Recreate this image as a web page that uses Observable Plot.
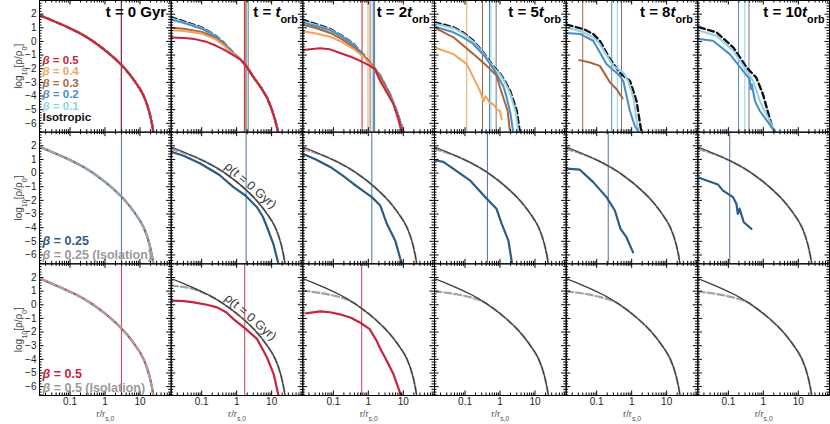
<!DOCTYPE html>
<html><head><meta charset="utf-8">
<script src="https://cdn.jsdelivr.net/npm/d3@7"></script>
<script src="https://cdn.jsdelivr.net/npm/@observablehq/plot@0.6"></script>
<style>body{margin:0;background:#fff}</style>
</head><body><div id="chart"></div>
<script>
// ---------- categories & labels ----------
const columns = ["t0","t1","t2","t5","t8","t10"];
const rowKeys = ["aniso","b025","b05"];
const titles = ["t = 0 Gyr","t = *t*_{orb}","t = 2*t*_{orb}","t = 5*t*_{orb}","t = 8*t*_{orb}","t = 10*t*_{orb}"];
const yTickValues = [2,1,0,-1,-2,-3,-4,-5,-6];
const xTickValues = [0.1,1,10];
const xTickLabels = ["0.1","1","10"];
const xMinorTicks = [0.02,0.03,0.04,0.05,0.06,0.07,0.08,0.09,0.2,0.3,0.4,0.5,0.6,0.7,0.8,0.9,2,3,4,5,6,7,8,9,20,30,40,50,60,70];
const betaKeys = ["b5","b4","b3","b2","b1","iso"];
const betaLabels = ["*β* = 0.5","*β* = 0.4","*β* = 0.3","*β* = 0.2","*β* = 0.1","Isotropic"];
const betaColors = ["#c8233f","#f2a45c","#a8663e","#4b8cc8","#8ed2e9","#111111"];
const midLegend = ["*β* = 0.25","*β* = 0.25 (Isolation)"];
const botLegend = ["*β* = 0.5","*β* = 0.5 (Isolation)"];
const vlineColors = {b5:"#c8233f",b4:"#f2a45c",b3:"#a8663e",b2:"#4b8cc8",b1:"#8ed2e9",iso:"#777777"};
const blue025 = "#2d5b86";
const red05 = "#c8233f";
const isoGrey = "#a3a3a3";

// ---------- curves: [log10(r/r_s,0), log10(rho/rho0)] ----------
const rho_t0 = [[-1.88,1.93],[-1.6,1.64],[-1.4,1.42],[-1.2,1.2],[-1.0,0.96],[-0.8,0.71],[-0.6,0.43],[-0.4,0.11],[-0.2,-0.25],[0,-0.64],[0.2,-1.07],[0.4,-1.55],[0.5,-1.81],[0.6,-2.09],[0.7,-2.4],[0.8,-2.74],[0.9,-3.1],[1.0,-3.48],[1.1,-3.95],[1.2,-4.6],[1.28,-5.3],[1.34,-6.0],[1.4,-6.9]];
const tailFrom = lr => rho_t0.filter(p => p[0] >= lr);

// top row (anisotropy comparison)
const t1_tail = [[0.1,-1.3],[0.25,-1.72],[0.49,-2.65],[0.7,-3.4],[0.87,-4.12],[1.0,-4.95],[1.1,-5.75],[1.2,-6.8]];
const t1_iso = [[-1.88,1.78],[-1.5,1.45],[-1.0,1.02],[-0.6,0.42],[-0.35,-0.15],[-0.1,-0.85]];
const t1_b1 = [[-1.88,1.7],[-1.5,1.4],[-1.0,0.98],[-0.6,0.4],[-0.35,-0.17],[-0.1,-0.86]];
const t1_b2 = [[-1.88,1.6],[-1.5,1.34],[-1.0,0.93],[-0.6,0.36],[-0.35,-0.2],[-0.1,-0.87]];
const t1_b3 = [[-1.88,1.0],[-1.5,0.93],[-1.0,0.7],[-0.6,0.25],[-0.35,-0.28],[-0.1,-0.9]];
const t1_b4 = [[-1.88,0.82],[-1.5,0.77],[-1.0,0.57],[-0.6,0.15],[-0.35,-0.34],[-0.1,-0.93]];
const t1_b5 = [[-1.88,0.28],[-1.5,0.25],[-1.2,0.17],[-0.9,0.0],[-0.6,-0.3],[-0.35,-0.62],[-0.1,-1.0]];

const t2_iso = [[-1.88,1.6],[-1.5,1.27],[-1.09,0.91],[-0.75,0.4],[-0.42,-0.19],[-0.15,-0.95],[0.05,-1.6],[0.19,-2.0],[0.34,-2.52],[0.62,-3.87],[0.81,-5.1],[1.02,-6.7]];
const t2_b1 = [[-1.88,1.48],[-1.5,1.2],[-1.09,0.86],[-0.75,0.37],[-0.42,-0.22],[-0.15,-0.96],[0.05,-1.6],[0.19,-2.0],[0.34,-2.5],[0.62,-3.85],[0.81,-5.05],[1.02,-6.7]];
const t2_b2 = [[-1.88,1.38],[-1.5,1.13],[-1.09,0.81],[-0.75,0.33],[-0.42,-0.25],[-0.15,-0.98],[0.05,-1.6],[0.19,-2.02],[0.34,-2.55],[0.62,-3.9],[0.81,-5.15],[1.0,-6.7]];
const t2_b3 = [[-1.88,1.23],[-1.5,0.98],[-1.09,0.62],[-0.75,0.15],[-0.42,-0.44],[-0.15,-1.05],[0.05,-1.55],[0.19,-2.0],[0.34,-2.6],[0.62,-3.95],[0.81,-5.2],[1.0,-6.7]];
const t2_b4 = [[-1.88,0.74],[-1.5,0.58],[-1.09,0.35],[-0.75,-0.05],[-0.42,-0.56],[-0.15,-1.1],[0.05,-1.66],[0.19,-2.1],[0.34,-2.85],[0.53,-3.7],[0.72,-4.55],[0.96,-6.7]];
const t2_b5 = [[-1.85,-0.63],[-1.6,-0.55],[-1.38,-0.5],[-1.1,-0.58],[-0.81,-0.85],[-0.5,-1.12],[-0.23,-1.42],[0.05,-1.79],[0.19,-2.05],[0.34,-2.9],[0.53,-3.75],[0.72,-4.6],[0.85,-5.6],[0.96,-6.7]];

const t5_iso = [[-1.86,1.4],[-1.33,1.04],[-1.05,0.65],[-0.76,0.05],[-0.45,-0.9],[-0.19,-1.85],[0.0,-2.35],[0.15,-2.95],[0.29,-3.63],[0.48,-5.1],[0.57,-6.7]];
const t5_b1 = [[-1.86,1.3],[-1.33,0.97],[-1.05,0.58],[-0.76,-0.02],[-0.45,-0.95],[-0.19,-1.9],[0.0,-2.4],[0.15,-3.05],[0.29,-3.8],[0.45,-5.2],[0.53,-6.7]];
const t5_b2 = [[-1.86,1.08],[-1.33,0.67],[-1.05,0.3],[-0.76,-0.19],[-0.45,-1.05],[-0.19,-2.0],[-0.05,-2.6],[0.1,-3.3],[0.19,-4.1],[0.3,-5.3],[0.38,-6.7]];
const t5_b3 = [[-1.86,0.99],[-1.33,0.3],[-0.76,-0.93],[-0.38,-1.79],[-0.1,-2.5],[0.0,-3.38],[0.22,-5.1],[0.28,-6.5]];
const t5_b4 = [[-1.86,-0.44],[-1.33,-0.93],[-0.95,-1.66],[-0.76,-2.65],[-0.57,-3.63],[-0.47,-4.37],[-0.42,-4.0],[-0.36,-4.2],[-0.3,-4.5],[-0.19,-4.6],[-0.09,-4.98],[0.0,-5.1],[0.05,-5.72]];

const t8_iso = [[-1.86,1.23],[-1.38,0.91],[-1.1,0.55],[-0.91,0.05],[-0.62,-1.3],[-0.34,-2.28],[-0.2,-2.6],[-0.05,-2.89],[0.14,-4.37],[0.28,-6.7]];
const t8_b1 = [[-1.86,1.04],[-1.38,0.67],[-1.1,0.3],[-0.91,-0.19],[-0.53,-1.79],[-0.24,-2.28],[-0.1,-2.9],[0.05,-4.12],[0.19,-6.7]];
const t8_b2 = [[-1.86,0.62],[-1.48,0.55],[-1.1,0.05],[-0.72,-1.66],[-0.34,-2.52],[-0.24,-2.9],[-0.05,-5.1],[0.09,-6.2],[0.22,-6.7]];
const t8_b3 = [[-1.5,-1.37],[-1.19,-1.54],[-0.91,-1.79],[-0.62,-3.0],[-0.43,-3.5],[-0.26,-4.17]];

const t10_iso = [[-1.84,1.04],[-1.34,0.67],[-0.86,-0.44],[-0.48,-1.91],[-0.2,-2.65],[-0.01,-3.88],[0.23,-6.08],[0.37,-6.8]];
const t10_b1 = [[-1.84,0.79],[-1.34,0.42],[-0.86,-0.68],[-0.48,-2.15],[-0.29,-2.9],[-0.1,-4.37],[0.09,-5.35],[0.37,-6.8]];
const t10_b2 = [[-1.84,0.18],[-1.44,0.05],[-0.96,-0.93],[-0.58,-2.15],[-0.39,-2.77],[-0.36,-3.5],[-0.33,-3.14],[-0.24,-4.37],[-0.1,-5.1],[0.18,-6.08],[0.37,-6.8]];

// middle row (beta = 0.25)
const b025_t1 = [[-1.85,1.55],[-1.5,1.25],[-1.04,0.7],[-0.5,-0.12],[-0.09,-1.03],[0.25,-1.64],[0.58,-2.5],[0.75,-3.2],[0.87,-3.97],[1.05,-5.2],[1.2,-6.7]];
const b025_t2 = [[-1.85,1.38],[-1.5,1.0],[-1.09,0.45],[-0.75,-0.15],[-0.43,-0.78],[-0.15,-1.3],[0.1,-1.76],[0.34,-2.37],[0.53,-3.72],[0.77,-4.95],[0.96,-6.7]];
const b025_t5 = [[-1.86,0.94],[-1.62,0.82],[-1.34,0.33],[-0.86,-0.53],[-0.38,-1.88],[-0.1,-2.62],[0.05,-3.72],[0.24,-4.95],[0.35,-6.7]];
const b025_t8 = [[-1.86,0.33],[-1.48,0.25],[-1.1,-0.66],[-0.72,-1.76],[-0.48,-2.74],[-0.32,-4.09],[-0.15,-4.7],[0.04,-5.81]];
const b025_t10 = [[-1.82,-0.36],[-1.3,-0.83],[-1.16,-1.27],[-0.87,-1.76],[-0.77,-2.25],[-0.73,-2.99],[-0.68,-2.6],[-0.62,-3.1],[-0.56,-3.6],[-0.34,-4.09]];
const iso025_core = [[-1.88,1.78],[-1.6,1.56],[-1.4,1.38]];

// bottom row (beta = 0.5)
const b05_t1 = [[-1.85,0.3],[-1.5,0.27],[-1.23,0.17],[-0.85,0.0],[-0.56,-0.19],[-0.3,-0.55],[-0.09,-1.05],[0.25,-1.75],[0.58,-2.5],[0.75,-3.3],[0.87,-3.88],[1.06,-5.1],[1.2,-6.7]];
const b05_t2 = [[-1.78,-0.63],[-1.38,-0.49],[-1.1,-0.55],[-0.81,-0.7],[-0.5,-0.95],[-0.24,-1.3],[0.04,-1.79],[0.24,-2.65],[0.34,-3.2],[0.53,-4.12],[0.72,-5.1],[0.89,-6.33],[0.96,-6.7]];
const iso05_t1 = [[-1.88,1.42],[-1.6,1.33],[-1.4,1.25],[-1.2,1.13],[-1.0,0.94]];
const iso05_t2 = [[-1.88,1.05],[-1.6,0.95],[-1.3,0.83],[-1.0,0.68],[-0.8,0.55],[-0.6,0.38]];
const iso05_t5 = [[-1.88,0.98],[-1.5,0.87],[-1.2,0.75],[-0.9,0.59],[-0.6,0.36]];
const iso05_t8 = [[-1.88,0.98],[-1.5,0.87],[-1.2,0.74],[-0.9,0.57],[-0.6,0.35]];
const iso05_t10 = [[-1.88,0.97],[-1.5,0.86],[-1.2,0.73],[-0.9,0.56],[-0.6,0.35]];

// vertical lines: log10(r/r_s,0)
const vTop = [["t0","iso",0.47],["t0","b1",0.47],["t0","b2",0.47],["t0","b3",0.47],["t0","b4",0.47],["t0","b5",0.47],
  ["t1","iso",0.33],["t1","b1",0.29],["t1","b2",0.27],["t1","b3",0.25],["t1","b4",0.24],["t1","b5",0.22],
  ["t2","iso",0.18],["t2","b2",0.15],["t2","b1",0.11],["t2","b3",0.05],["t2","b4",-0.01],["t2","b5",-0.18],
  ["t5","iso",-0.11],["t5","b1",-0.26],["t5","b2",-0.3],["t5","b3",-0.5],["t5","b4",-0.95],
  ["t8","iso",-0.29],["t8","b1",-0.41],["t8","b2",-0.57],["t8","b3",-1.4],
  ["t10","iso",-0.41],["t10","b1",-0.53],["t10","b2",-0.71]];
const vMid = [["t0",0.47],["t1",0.27],["t2",0.1],["t5",-0.36],["t8",-0.67],["t10",-0.96]];
const vBot = [["t0",0.47],["t1",0.23],["t2",-0.19]];
const rhoLabelPos = [0.4,-0.9];

// ---------- tables ----------
const topCurves = [
  ...["iso","b1","b2","b3","b4","b5"].map(k => ["t0",k,rho_t0]),
  ["t1","iso",t1_iso.concat(t1_tail)],["t1","b1",t1_b1.concat(t1_tail)],["t1","b2",t1_b2.concat(t1_tail)],
  ["t1","b3",t1_b3.concat(t1_tail)],["t1","b4",t1_b4.concat(t1_tail)],["t1","b5",t1_b5.concat(t1_tail)],
  ["t2","iso",t2_iso],["t2","b1",t2_b1],["t2","b2",t2_b2],["t2","b3",t2_b3],["t2","b4",t2_b4],["t2","b5",t2_b5],
  ["t5","iso",t5_iso],["t5","b1",t5_b1],["t5","b2",t5_b2],["t5","b3",t5_b3],["t5","b4",t5_b4],
  ["t8","iso",t8_iso],["t8","b1",t8_b1],["t8","b2",t8_b2],["t8","b3",t8_b3],
  ["t10","iso",t10_iso],["t10","b1",t10_b1],["t10","b2",t10_b2]
];
const colorOf = Object.fromEntries(betaKeys.map((k,i)=>[k,betaColors[i]]));
const drawOrder = ["b1","b2","b3","b4","b5"];
const pts = (col,row,key,arr,color) => arr.map(([lr,y]) => ({col,row,key:col+row+key,r:10**lr,y,color}));

const topIso = topCurves.filter(c=>c[1]==="iso").flatMap(([c,k,a]) => pts(c,"aniso",k,a,"#111"));
const topColored = drawOrder.flatMap(k => topCurves.filter(c=>c[1]===k).flatMap(([c,kk,a]) => pts(c,"aniso",kk,a,colorOf[kk])));

const baseRows = ["b025","b05"].flatMap(row => columns.filter(c=>c!=="t0").flatMap(c => pts(c,row,"base",rho_t0,"#333")));
const midCurves = [["t0",rho_t0],["t1",b025_t1],["t2",b025_t2],["t5",b025_t5],["t8",b025_t8],["t10",b025_t10]];
const botCurves = [["t0",rho_t0],["t1",b05_t1],["t2",b05_t2]];
const coloredRows = [
  ...midCurves.flatMap(([c,a]) => pts(c,"b025","beta",a,blue025)),
  ...botCurves.flatMap(([c,a]) => pts(c,"b05","beta",a,red05))
];
const isoMid = columns.flatMap(c => pts(c,"b025","iso", c==="t0" ? rho_t0 : iso025_core.concat(tailFrom(-1.2)), isoGrey));
const isoBotSrc = {t0: rho_t0, t1: iso05_t1.concat(tailFrom(-0.8)), t2: iso05_t2.concat(tailFrom(-0.4)),
  t5: iso05_t5.concat(tailFrom(-0.4)), t8: iso05_t8.concat(tailFrom(-0.4)), t10: iso05_t10.concat(tailFrom(-0.4))};
const isoBot = columns.flatMap(c => pts(c,"b05","iso",isoBotSrc[c],isoGrey));

const vlineData = [
  ...vTop.map(([col,k,lr]) => ({col,row:"aniso",r:10**lr,color: k==="b5"&&col==="t0" ? "#a11e34" : vlineColors[k]})),
  ...vMid.map(([col,lr]) => ({col,row:"b025",r:10**lr,color:"#4f7399"})),
  ...vBot.map(([col,lr]) => ({col,row:"b05",r:10**lr,color:"#cf3a52"}))
];

// ---------- layout ----------
const W = 830, H = 424, ML = 39, MR = 1, MT = 0, MB = 29;
const PW = (W-ML-MR)/6, PH = (H-MT-MB)/3;
const yMinor = d3.range(-33,15).map(i=>+(i*0.2).toFixed(1)).filter(v=>Math.abs(v-Math.round(v))>1e-6);
const fmt = v => v < 0 ? "\u2212" + (-v) : String(v);

const yTickData = rowKeys.flatMap(row => yTickValues.map(v => ({row,v})));
const xTickData = columns.flatMap(col => xTickValues.map((v,i) => ({col,v,label:xTickLabels[i]})));
const legendText = (txt, fx, fy, opts) => Plot.text([txt], {fx:()=>fx, fy:()=>fy, text:d=>d,
  frameAnchor:"bottom-left", textAnchor:"start", lineAnchor:"bottom", dx:3, fontWeight:"bold", ...opts});

const svg = Plot.plot({
  width: W, height: H, marginLeft: ML, marginRight: MR, marginTop: MT, marginBottom: MB,
  style: {fontFamily: "'Liberation Sans', Arial, sans-serif", background: "#fff"},
  fx: {domain: columns, padding: 0, round: false, axis: null},
  fy: {domain: rowKeys, padding: 0, round: false, axis: null},
  x: {type: "log", domain: [0.0134, 78], axis: null},
  y: {domain: [-6.65, 3.0], axis: null},
  marks: [
    Plot.ruleX(vlineData, {x:"r", fx:"col", fy:"row", stroke:"color", strokeWidth:1}),
    // rows 2-3: satellite, isolation, initial profile
    Plot.line(coloredRows, {x:"r", y:"y", fx:"col", fy:"row", z:"key", stroke:"color", strokeWidth:2.2, strokeLinejoin:"round", clip:true}),
    Plot.line(isoMid.concat(isoBot), {x:"r", y:"y", fx:"col", fy:"row", z:"key", stroke:isoGrey, strokeWidth:2.2, strokeDasharray:"7,3", clip:true}),
    Plot.line(baseRows, {x:"r", y:"y", fx:"col", fy:"row", z:"key", stroke:"#3a3a3a", strokeWidth:1.2, clip:true}),
    // top row
    Plot.line(topIso, {x:"r", y:"y", fx:"col", fy:"row", z:"key", stroke:"#111", strokeWidth:2.4, strokeDasharray:"6,3.5", clip:true}),
    Plot.line(topColored, {x:"r", y:"y", fx:"col", fy:"row", z:"key", stroke:"color", strokeWidth:2, strokeLinejoin:"round", clip:true}),
    // frame and ticks
    Plot.frame({stroke:"#000", strokeWidth:1}),
    Plot.tickY(yTickValues, {y:d=>d, insetRight: PW-4.5, stroke:"#000"}),
    Plot.tickY(yTickValues, {y:d=>d, insetLeft: PW-4.5, stroke:"#000"}),
    Plot.tickY(yMinor, {y:d=>d, insetRight: PW-2.5, stroke:"#000"}),
    Plot.tickY(yMinor, {y:d=>d, insetLeft: PW-2.5, stroke:"#000"}),
    Plot.tickX(xTickValues, {x:d=>d, insetTop: PH-4.5, stroke:"#000"}),
    Plot.tickX(xTickValues, {x:d=>d, insetBottom: PH-4.5, stroke:"#000"}),
    Plot.tickX(xMinorTicks, {x:d=>d, insetTop: PH-2.5, stroke:"#000"}),
    Plot.tickX(xMinorTicks, {x:d=>d, insetBottom: PH-2.5, stroke:"#000"}),
    // tick labels and axis labels
    Plot.text(yTickData, {fx:()=>"t0", fy:"row", y:"v", text:d=>fmt(d.v), frameAnchor:"left", textAnchor:"end", dx:-3, fontSize:10, fill:"#222"}),
    Plot.text(xTickData, {fx:"col", fy:()=>"b05", x:"v", text:"label", frameAnchor:"bottom", lineAnchor:"top", dy:2, fontSize:10, fill:"#222"}),
    Plot.text(columns, {fx:d=>d, fy:()=>"b05", text:()=>"r/r_{s,0}", frameAnchor:"bottom", textAnchor:"middle", dy:21, fontSize:9.5, fill:"#555"}),
    Plot.text(rowKeys, {fx:()=>"t0", fy:d=>d, text:()=>"log_{10}[ρ/ρ_{0}]", frameAnchor:"left", textAnchor:"middle", dx:-21, rotate:-90, fontSize:10, fill:"#444"}),
    // titles
    Plot.text(columns, {fx:d=>d, fy:()=>"aniso", text:(d,i)=>titles[i], frameAnchor:"top-right", textAnchor:"end", lineAnchor:"top", dx:-5, dy:6, fontSize:15, fontWeight:"bold", fill:"#000"}),
    // legends (multi-line, each line coloured afterwards)
    legendText(betaLabels.join("\n"), "t0", "aniso", {dy:-11, fontSize:11.5, lineHeight:1.0, fill:"#111"}),
    legendText(midLegend.join("\n"), "t0", "b025", {dy:-5, fontSize:12.5, lineHeight:1.12, fill:blue025}),
    legendText(botLegend.join("\n"), "t0", "b05", {dy:-4, fontSize:12.5, lineHeight:1.08, fill:red05}),
    Plot.text(["b025","b05"], {fx:()=>"t1", fy:d=>d, x:()=>10**rhoLabelPos[0], y:()=>rhoLabelPos[1], text:()=>"ρ(t = 0 Gyr)", rotate:41, fontSize:12.5, fill:"#333"})
  ]
});

// colour the legend lines
const legendColours = [betaColors, [blue025,"#9a9a9a"], [red05,"#9a9a9a"]];
d3.select(svg).selectAll("text").each(function() {
  const lines = Array.from(this.children).filter(c => c.tagName === "tspan");
  if (lines.length < 2) return;
  const content = lines.map(l => l.textContent).join("\n");
  const which = content === betaLabels.join("\n") ? 0 : content === midLegend.join("\n") ? 1 : content === botLegend.join("\n") ? 2 : -1;
  if (which >= 0) lines.forEach((l,i) => l.setAttribute("fill", legendColours[which][i]));
});

// rich text: *italic* and _{subscript}
function richify(el) {
  const kids = Array.from(el.children);
  if (kids.length) { kids.forEach(richify); return; }
  const src = el.textContent;
  if (!/\*|_\{/.test(src)) return;
  const parts = src.split(/(\*[^*]+\*|_\{[^}]+\})/).filter(s => s);
  el.textContent = "";
  for (const p of parts) {
    const ts = document.createElementNS("http://www.w3.org/2000/svg","tspan");
    if (p.startsWith("*")) { ts.textContent = p.slice(1,-1); ts.setAttribute("font-style","italic"); }
    else if (p.startsWith("_{")) { ts.textContent = p.slice(2,-1); ts.setAttribute("baseline-shift","sub"); ts.setAttribute("font-size","72%"); }
    else ts.textContent = p;
    el.appendChild(ts);
  }
}
d3.select(svg).selectAll("text").each(function() { richify(this); });
document.getElementById("chart").appendChild(svg);
</script>
</body></html>
